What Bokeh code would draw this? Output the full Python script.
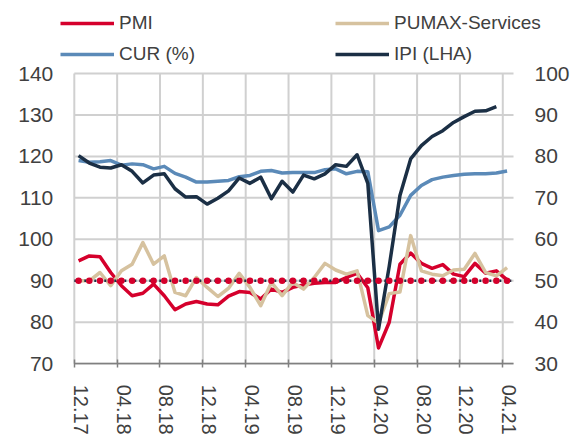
from bokeh.plotting import figure
from bokeh.models import Range1d, LinearAxis, FixedTicker, Legend, LegendItem
from bokeh.embed import file_html
from bokeh.resources import INLINE

# ---- data (monthly, Dec 2017 .. Apr 2021) ----
tick_labels = ["12.17", "04.18", "08.18", "12.18", "04.19", "08.19",
               "12.19", "04.20", "08.20", "12.20", "04.21"]
tick_months = [0, 4, 8, 12, 16, 20, 24, 28, 32, 36, 40]

pmi = [54.8, 56.0, 55.8, 52.0, 48.8, 46.4, 47.0, 49.2, 46.4, 43.0,
       44.4, 45.0, 44.4, 44.2, 46.3, 47.4, 47.2, 45.6, 48.0, 47.2,
       48.4, 49.0, 49.4, 49.6, 49.6, 50.8, 51.8, 48.3, 33.8, 40.0,
       54.0, 56.7, 54.2, 53.0, 53.9, 51.6, 51.0, 54.2, 51.8, 52.4, 50.2]
pumax = [50.0, 50.0, 52.0, 48.8, 52.4, 54.0, 59.2, 54.0, 56.0, 47.2,
         46.4, 50.8, 48.4, 46.2, 48.2, 51.8, 48.4, 44.0, 49.6, 46.4,
         49.6, 48.0, 50.8, 54.2, 52.6, 51.6, 52.4, 41.6, 39.8, 46.9,
         47.3, 60.9, 52.4, 51.6, 51.2, 52.6, 52.8, 56.6, 52.0, 51.2, 53.2]
cur = [79.0, 78.6, 78.7, 79.0, 77.9, 78.2, 78.0, 77.0, 77.6, 75.9,
       75.0, 73.8, 73.8, 74.0, 74.2, 75.1, 75.4, 76.4, 76.6, 76.0,
       76.1, 76.1, 76.1, 76.8, 77.0, 75.8, 76.4, 76.3, 62.1, 63.0,
       65.8, 70.6, 73.0, 74.4, 75.0, 75.4, 75.7, 75.8, 75.8, 76.0, 76.5]
ipi = [120.2, 118.4, 117.4, 117.2, 118.0, 116.4, 113.6, 115.5, 115.8, 112.2,
       110.2, 110.3, 108.5, 109.9, 111.7, 114.8, 113.5, 115.0, 109.8, 114.0,
       111.4, 115.5, 114.6, 115.8, 118.0, 117.6, 120.4, 113.5, 78.3, 93.5,
       110.6, 119.4, 122.6, 124.8, 126.2, 128.2, 129.6, 130.9, 131.0, 132.0]
neutral = 50

left_ticks = [70, 80, 90, 100, 110, 120, 130, 140]
right_ticks = [30, 40, 50, 60, 70, 80, 90, 100]

RED = "#d5002c"
TAN = "#d6c29f"
BLUE = "#5b8ab8"
NAVY = "#1b2f45"
TXT = "#404040"
GRID = "#d0d0d0"

X_END = 41          # plot area spans months 0..41
OFFSET = 0.4        # points sit slightly right of the month boundary
LABEL_SHIFT = 0.6   # category labels centred between boundaries


def xs(series):
    return [i + OFFSET for i in range(len(series))]


W, H = 583, 435
# pixel layout of the plot area inside the canvas
FL, FR, FT, FB = 73.8, 513.0, 73.0, 363.2
ppx = (FR - FL) / X_END
ppy = (FB - FT) / (left_ticks[-1] - left_ticks[0])
x0 = -FL / ppx
y1 = left_ticks[-1] + FT / ppy
y0 = y1 - H / ppy
shift = left_ticks[0] - right_ticks[0]

p = figure(width=W, height=H, output_backend="svg", toolbar_location=None,
           x_range=Range1d(x0, x0 + W / ppx), y_range=Range1d(y0, y1),
           min_border=0, min_border_left=0, min_border_right=0,
           min_border_top=0, min_border_bottom=0)
p.outline_line_color = None
p.grid.visible = False
p.extra_y_ranges = {"right": Range1d(y0 - shift, y1 - shift)}

# grid lines (bounded to the plot area)
p.segment(x0=tick_months, x1=tick_months,
          y0=[left_ticks[0]] * len(tick_months), y1=[left_ticks[-1]] * len(tick_months),
          line_color=GRID, line_width=2, line_alpha=1.0)
p.segment(x0=[0] * len(left_ticks), x1=[X_END] * len(left_ticks),
          y0=left_ticks, y1=left_ticks, line_color=GRID, line_width=2, line_alpha=1.0)

# bottom axis
xa = p.xaxis[0]
xa.fixed_location = left_ticks[0]
xa.bounds = (0, X_END)
xa.ticker = FixedTicker(ticks=[round(m + LABEL_SHIFT, 1) for m in tick_months],
                        minor_ticks=tick_months)
xa.major_label_overrides = {round(m + LABEL_SHIFT, 1): lab
                            for m, lab in zip(tick_months, tick_labels)}
xa.major_label_orientation = "vertical"
xa.major_tick_in = 0
xa.major_tick_out = 0
xa.minor_tick_in = 4
xa.minor_tick_out = 4
xa.minor_tick_line_color = "#808080"
xa.minor_tick_line_width = 1.5
xa.axis_line_color = "#808080"
xa.axis_line_width = 1.5
xa.major_label_standoff = 17
xa.major_label_text_font = "Liberation Sans"
xa.major_label_text_font_size = "20px"
xa.major_label_text_color = TXT

# left / right axes
ya = p.yaxis[0]
ya.ticker = FixedTicker(ticks=left_ticks)
ya.fixed_location = 0
ra = LinearAxis(y_range_name="right", ticker=FixedTicker(ticks=right_ticks))
ra.fixed_location = X_END
p.add_layout(ra, "right")
for ax in (ya, ra):
    ax.axis_line_color = None
    ax.major_tick_line_color = None
    ax.minor_tick_line_color = None
    ax.major_tick_in = 0
    ax.major_tick_out = 0
    ax.major_label_standoff = 21
    ax.major_label_text_font = "Liberation Sans"
    ax.major_label_text_font_size = "21px"
    ax.major_label_text_color = TXT

# series
r_pmi = p.line(xs(pmi), pmi, y_range_name="right", line_color=RED, line_width=3.5,
               line_join="round")
r_pumax = p.line(xs(pumax), pumax, y_range_name="right", line_color=TAN, line_width=3.5,
                 line_join="round")
r_cur = p.line(xs(cur), cur, y_range_name="right", line_color=BLUE, line_width=3.5,
               line_join="round")
r_ipi = p.line(xs(ipi), ipi, line_color=NAVY, line_width=3.5, line_join="round")

# neutral 50 line
p.line([0, X_END], [neutral, neutral], y_range_name="right",
       line_color=NAVY, line_width=2.5, line_dash="2 3")
p.scatter(xs(pmi), [neutral] * len(pmi), y_range_name="right", size=6.5,
          fill_color=RED, line_color=None)

# legend
common = dict(border_line_color=None, background_fill_alpha=0, padding=0, margin=0,
              spacing=5, glyph_width=54, glyph_height=26, label_height=26,
              label_standoff=5, label_text_font="Liberation Sans",
              label_text_font_size="19px", label_text_color=TXT,
              label_text_baseline="middle")
leg1 = Legend(items=[LegendItem(label="PMI", renderers=[r_pmi]),
                     LegendItem(label="CUR (%)", renderers=[r_cur])],
              location=(60, 368), **common)
leg2 = Legend(items=[LegendItem(label="PUMAX-Services", renderers=[r_pumax]),
                     LegendItem(label="IPI (LHA)", renderers=[r_ipi])],
              location=(335, 368), **common)
p.add_layout(leg1)
p.add_layout(leg2)

open("out.html", "w").write(file_html(p, INLINE))
